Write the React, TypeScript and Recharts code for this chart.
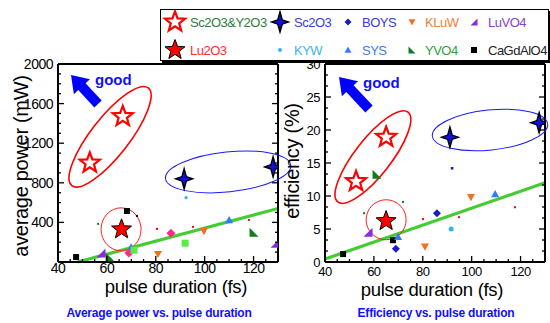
import React from 'react'
import { ScatterChart, Scatter, XAxis, YAxis, ReferenceLine, ReferenceDot } from 'recharts'

type Pt = { x: number; y: number }
type Draw = (cx: number, cy: number) => React.ReactElement

const FONT = '"Liberation Sans", Arial, Helvetica, sans-serif'
const BLUE = '#1010ff'

// tick labels
const durationLabels = [40, 60, 80, 100, 120]
const powerLabels = [400, 800, 1200, 1600, 2000]
const efficiencyLabels = [0, 5, 10, 15, 20, 25, 30]

// average power (mW) vs pulse duration (fs)
const sc2o3y2o3Power = [{ x: 53, y: 1000 }, { x: 66.5, y: 1470 }]
const sc2o3Power = [{ x: 91.6, y: 840 }, { x: 128, y: 960 }]
const lu2o3Power = [{ x: 66, y: 330 }]
const boysPower = [{ x: 86.2, y: 290 }, { x: 69, y: 90 }]
const kluwPower = [{ x: 99.7, y: 310 }, { x: 80.9, y: 80 }]
const luvo4Power = [{ x: 57.6, y: 90 }, { x: 128.8, y: 190 }]
const kywPower = [{ x: 92.4, y: 650 }]
const sysPower = [{ x: 110, y: 425 }, { x: 69.9, y: 150 }]
const yvo4Power = [{ x: 120.2, y: 300 }, { x: 61.3, y: 50 }]
const cagdalo4Power = [{ x: 68.2, y: 515 }, { x: 47.4, y: 50 }]
const otherPower = [{ x: 92, y: 190 }, { x: 71.1, y: 120 }]
const smallRedPower = [{ x: 80.5, y: 335 }, { x: 95.2, y: 355 }, { x: 118.1, y: 425 }]
const smallGreenPower = [{ x: 56.4, y: 385 }]
const smallBlackPower = [{ x: 72.3, y: 465 }]

// efficiency (%) vs pulse duration (fs)
const sc2o3y2o3Eff = [{ x: 52.7, y: 12.2 }, { x: 65, y: 18.9 }]
const sc2o3Eff = [{ x: 91.1, y: 18.9 }, { x: 127.6, y: 21.1 }]
const lu2o3Eff = [{ x: 65, y: 6.2 }]
const boysEff = [{ x: 85.8, y: 7.4 }, { x: 69, y: 2.0 }]
const kluwEff = [{ x: 99.7, y: 9.8 }, { x: 80.9, y: 2.3 }]
const luvo4Eff = [{ x: 57.6, y: 4.5 }]
const kywEff = [{ x: 91.6, y: 5.0 }]
const sysEff = [{ x: 109.6, y: 10.3 }, { x: 69.9, y: 3.8 }]
const yvo4Eff = [{ x: 61.3, y: 13.3 }]
const cagdalo4Eff = [{ x: 67.8, y: 3.3 }, { x: 47.4, y: 1.2 }]
const smallRedEff = [{ x: 117.7, y: 8.3 }, { x: 94.8, y: 6.8 }, { x: 80.1, y: 6.5 }]
const smallGreenEff = [{ x: 56, y: 7.4 }, { x: 71.9, y: 9.1 }]
const smallBlueEff = [{ x: 92, y: 14.2 }]

// green trend lines
const powerTrend = [{ x: 48, y: 0 }, { x: 130, y: 540 }]
const efficiencyTrend = [{ x: 40, y: 0.45 }, { x: 130, y: 12 }]

// centres of the hand drawn rings
const powerRings = [{ x: 61.3, y: 1265 }, { x: 109.6, y: 910 }, { x: 65.8, y: 330 }]
const efficiencyRings = [{ x: 59.6, y: 15.9 }, { x: 107.5, y: 20 }, { x: 65, y: 6.4 }]

const powerRingStyle = [
  { rx: 62, ry: 19, angle: -52, color: '#ff0000', width: 1.6 },
  { rx: 63, ry: 20, angle: -6, color: '#1a1aff', width: 1 },
  { rx: 20, ry: 21.5, angle: 0, color: '#ff2020', width: 1 },
]
const efficiencyRingStyle = [
  { rx: 57, ry: 18, angle: -52, color: '#ff0000', width: 1.6 },
  { rx: 58, ry: 20, angle: -6, color: '#1a1aff', width: 1 },
  { rx: 20, ry: 20, angle: 0, color: '#ff2020', width: 1 },
]

const steps = (from: number, to: number, step: number) => {
  const out: number[] = []
  for (let v = from; v <= to + 1e-9; v += step) out.push(Math.round(v * 1000) / 1000)
  return out
}
const durationTicks = steps(40, 130, 5)
const durationMajor = [40, 60, 80, 100, 120]
const powerTicks = steps(0, 2000, 100)
const powerMajor = [0, 400, 800, 1200, 1600, 2000]
const efficiencyTicks = steps(0, 30, 5 / 3)
const efficiencyMajor = [0, 5, 10, 15, 20, 25, 30]

// marker shapes
const starPoints = (cx: number, cy: number, R: number, r: number) => {
  const pts: string[] = []
  for (let i = 0; i < 10; i++) {
    const rad = i % 2 === 0 ? R : r
    const a = ((-90 + i * 36) * Math.PI) / 180
    pts.push(`${cx + rad * Math.cos(a)},${cy + rad * Math.sin(a)}`)
  }
  return pts.join(' ')
}
const openStar = (R: number): Draw => (cx, cy) => (
  <polygon points={starPoints(cx, cy, R, R * 0.42)} fill="#fff" stroke="#ff0000" strokeWidth={2.2} />
)
const solidStar = (R: number): Draw => (cx, cy) => (
  <polygon points={starPoints(cx, cy, R, R * 0.42)} fill="#ff0000" stroke="#000" strokeWidth={1} />
)
const cross4 = (s: number): Draw => (cx, cy) => (
  <polygon
    points={`${cx},${cy - s * 1.2} ${cx + 2.2},${cy - 2.2} ${cx + s},${cy} ${cx + 2.2},${cy + 2.2} ${cx},${cy + s * 1.2} ${cx - 2.2},${cy + 2.2} ${cx - s},${cy} ${cx - 2.2},${cy - 2.2}`}
    fill="#1010e0"
    stroke="#000"
    strokeWidth={1.4}
  />
)
const diamond = (c: string, s: number): Draw => (cx, cy) => (
  <polygon points={`${cx},${cy - s} ${cx + s},${cy} ${cx},${cy + s} ${cx - s},${cy}`} fill={c} />
)
const triDown = (c: string, s: number): Draw => (cx, cy) => (
  <polygon points={`${cx - s},${cy - s * 0.8} ${cx + s},${cy - s * 0.8} ${cx},${cy + s}`} fill={c} />
)
const triUp = (c: string, s: number): Draw => (cx, cy) => (
  <polygon points={`${cx - s},${cy + s * 0.8} ${cx + s},${cy + s * 0.8} ${cx},${cy - s}`} fill={c} />
)
const triLeft = (c: string, s: number): Draw => (cx, cy) => (
  <polygon points={`${cx - s},${cy - s} ${cx - s},${cy + s} ${cx + s},${cy + s}`} fill={c} />
)
const triRight = (c: string, s: number): Draw => (cx, cy) => (
  <polygon points={`${cx + s},${cy - s} ${cx + s},${cy + s} ${cx - s},${cy + s}`} fill={c} />
)
const square = (c: string, s: number): Draw => (cx, cy) => (
  <rect x={cx - s} y={cy - s} width={s * 2} height={s * 2} fill={c} />
)
const dot = (c: string, r: number): Draw => (cx, cy) => <circle cx={cx} cy={cy} r={r} fill={c} />

type Layer = { key: string; data: Pt[]; draw: Draw }

const powerLayers: Layer[] = [
  { key: 'cagdalo4', data: cagdalo4Power, draw: square('#000', 3) },
  { key: 'kluw', data: kluwPower, draw: triDown('#f07020', 4) },
  { key: 'sys', data: sysPower, draw: triUp('#2f7bff', 4) },
  { key: 'yvo4', data: yvo4Power, draw: triLeft('#117a22', 4.5) },
  { key: 'luvo4', data: luvo4Power, draw: triRight('#8a2be2', 4.5) },
  { key: 'kyw', data: kywPower, draw: dot('#2ab8f0', 1.6) },
  { key: 'boys', data: boysPower, draw: diamond('#ff2a8a', 4.5) },
  { key: 'other', data: otherPower, draw: square('#55ee44', 3.5) },
  { key: 'sred', data: smallRedPower, draw: square('#ff0000', 1) },
  { key: 'sgreen', data: smallGreenPower, draw: square('#117a22', 1) },
  { key: 'sblack', data: smallBlackPower, draw: square('#000', 1) },
  { key: 'lu2o3', data: lu2o3Power, draw: solidStar(10.5) },
  { key: 'sc2o3y2o3', data: sc2o3y2o3Power, draw: openStar(10.5) },
  { key: 'sc2o3', data: sc2o3Power, draw: cross4(8.5) },
]

const efficiencyLayers: Layer[] = [
  { key: 'cagdalo4', data: cagdalo4Eff, draw: square('#000', 3) },
  { key: 'kluw', data: kluwEff, draw: triDown('#f07020', 4) },
  { key: 'sys', data: sysEff, draw: triUp('#2f7bff', 4) },
  { key: 'yvo4', data: yvo4Eff, draw: triLeft('#117a22', 4.5) },
  { key: 'luvo4', data: luvo4Eff, draw: triRight('#8a2be2', 4.5) },
  { key: 'kyw', data: kywEff, draw: dot('#2ab8f0', 2.5) },
  { key: 'boys', data: boysEff, draw: diamond('#1a1acd', 4) },
  { key: 'sred', data: smallRedEff, draw: square('#ff0000', 1) },
  { key: 'sgreen', data: smallGreenEff, draw: square('#117a22', 1) },
  { key: 'sblue', data: smallBlueEff, draw: square('#1a1acd', 1.3) },
  { key: 'lu2o3', data: lu2o3Eff, draw: solidStar(10.5) },
  { key: 'sc2o3y2o3', data: sc2o3y2o3Eff, draw: openStar(10.5) },
  { key: 'sc2o3', data: sc2o3Eff, draw: cross4(8.5) },
]

const legendNames = ['Sc2O3&Y2O3', 'Sc2O3', 'BOYS', 'KLuW', 'LuVO4', 'Lu2O3', 'KYW', 'SYS', 'YVO4', 'CaGdAlO4']
const legendText = ['#2e7d3a', '#3b3bdc', '#3b3bdc', '#f0803a', '#8b3fcf', '#ff3030', '#3ab4ec', '#3a7ee6', '#2f9f3f', '#222']
const legendMarks: Draw[] = [
  openStar(10.5), cross4(8.5), diamond('#1a1acd', 3.5), triDown('#f07020', 3.5), triRight('#8a2be2', 3.5),
  solidStar(10.5), dot('#2ab8f0', 2), triUp('#2f7bff', 3.5), triLeft('#117a22', 3.5), square('#000', 3),
]

const isIn = (list: number[], v: number) => list.some((m) => Math.abs(m - v) < 1e-6)

function axisTick(side: string, major: number[], labels: number[], fontSize: number, gap: number) {
  return (p: any) => {
    const { x, y, payload } = p
    const v = payload.value
    const len = isIn(major, v) ? 6 : 3
    const show = isIn(labels, v)
    let line = null
    let text = null
    if (side === 'bottom') {
      line = <line x1={x} x2={x} y1={y} y2={y - len} />
      if (show) text = <text x={x} y={y + gap} textAnchor="middle">{v}</text>
    } else if (side === 'top') {
      line = <line x1={x} x2={x} y1={y} y2={y + len} />
    } else if (side === 'left') {
      line = <line x1={x} x2={x + len} y1={y} y2={y} />
      if (show) text = <text x={x - gap} y={y} dy="0.36em" textAnchor="end">{v}</text>
    } else {
      line = <line x1={x} x2={x - len} y1={y} y2={y} />
    }
    return (
      <g>
        <g stroke="#000" strokeWidth={1.3}>{line}</g>
        <g fill="#000" stroke="none" fontSize={fontSize} letterSpacing={-0.5}>{text}</g>
      </g>
    )
  }
}

const frame = { stroke: '#000', strokeWidth: 2 }

// axes are 1px thick boxes (recharts skips axes of zero size), margins account for that
function Panel(props: {
  left: number
  width: number
  margin: { top: number; right: number; bottom: number; left: number }
  yDomain: [number, number]
  yTicks: number[]
  yMajor: number[]
  yLabels: number[]
  tickFont: number
  xGap: number
  layers: Layer[]
  trend: Pt[]
  rings: Pt[]
  ringStyle: { rx: number; ry: number; angle: number; color: string; width: number }[]
}) {
  const { left, width, margin, yDomain, yTicks, yMajor, yLabels, tickFont, xGap, layers, trend, rings, ringStyle } = props
  return (
    <div style={{ position: 'absolute', left, top: 0 }}>
      <ScatterChart width={width} height={323} margin={margin}>
        <XAxis type="number" dataKey="x" domain={[40, 130]} ticks={durationTicks} interval={0} height={1}
          tickSize={0} tickMargin={0} tickLine={false} axisLine={frame} allowDataOverflow
          tick={axisTick('bottom', durationMajor, durationLabels, tickFont, xGap)} />
        <XAxis xAxisId="top" orientation="top" type="number" domain={[40, 130]} ticks={durationTicks} interval={0}
          height={1} tickSize={0} tickMargin={0} tickLine={false} axisLine={frame} allowDataOverflow
          tick={axisTick('top', durationMajor, [], tickFont, 0)} />
        <YAxis type="number" dataKey="y" domain={yDomain} ticks={yTicks} interval={0} width={1}
          tickSize={0} tickMargin={0} tickLine={false} axisLine={frame} allowDataOverflow
          tick={axisTick('left', yMajor, yLabels, tickFont, 5)} />
        <YAxis yAxisId="right" orientation="right" type="number" domain={yDomain} ticks={yTicks} interval={0}
          width={1} tickSize={0} tickMargin={0} tickLine={false} axisLine={frame} allowDataOverflow
          tick={axisTick('right', yMajor, [], tickFont, 0)} />
        {rings.map((c, i) => {
          const s = ringStyle[i]
          return (
            <ReferenceDot key={i} x={c.x} y={c.y} r={1} ifOverflow="visible"
              shape={(p: any) => (
                <ellipse cx={p.cx} cy={p.cy} rx={s.rx} ry={s.ry} transform={`rotate(${s.angle} ${p.cx} ${p.cy})`}
                  fill="none" stroke={s.color} strokeWidth={s.width} />
              )} />
          )
        })}
        <ReferenceLine segment={[trend[0], trend[1]]} stroke="#44cc33" strokeWidth={3.2} ifOverflow="visible" />
        {layers.map((l) => (
          <Scatter key={l.key} data={l.data} isAnimationActive={false} shape={(p: any) => l.draw(p.cx, p.cy)} />
        ))}
      </ScatterChart>
    </div>
  )
}

function arrow(tx: number, ty: number, hx: number, hy: number) {
  const L = Math.hypot(hx - tx, hy - ty)
  const a = (Math.atan2(hy - ty, hx - tx) * 180) / Math.PI
  const pts = `0,-5 ${L - 16},-5 ${L - 16},-11 ${L},0 ${L - 16},11 ${L - 16},5 0,5`
  return <polygon points={pts} transform={`translate(${tx} ${ty}) rotate(${a})`} fill="#0000ff" />
}

function LegendBox() {
  const markX = [14, 119, 187, 251, 313]
  const textX = [29, 133, 201, 264, 327]
  const rowY = [12, 40]
  return (
    <div style={{ position: 'absolute', left: 160, top: 9, width: 387, height: 50, border: '1px solid #000',
      boxShadow: '2px 2px 0 #000', background: '#fff' }}>
      <svg width={387} height={50} style={{ display: 'block' }}>
        {legendNames.map((name, i) => {
          const col = i % 5
          const y = rowY[Math.floor(i / 5)]
          return (
            <g key={name}>
              {legendMarks[i](markX[col], y)}
              <text x={textX[col]} y={y} dy="0.36em" fontSize={13} letterSpacing={-0.5} fill={legendText[i]}>{name}</text>
            </g>
          )
        })}
      </svg>
    </div>
  )
}

export default function App() {
  return (
    <div style={{ position: 'absolute', left: 0, top: 0, width: 550, height: 323, background: '#fff', fontFamily: FONT, overflow: 'hidden' }}>
      <Panel left={0} width={300} margin={{ top: 63, right: 21, bottom: 60, left: 57 }} yDomain={[0, 2000]}
        yTicks={powerTicks} yMajor={powerMajor} yLabels={powerLabels} tickFont={14} xGap={11}
        layers={powerLayers} trend={powerTrend} rings={powerRings} ringStyle={powerRingStyle} />
      <Panel left={290} width={260} margin={{ top: 63, right: 4, bottom: 60, left: 34 }} yDomain={[0, 30]}
        yTicks={efficiencyTicks} yMajor={efficiencyMajor} yLabels={efficiencyLabels} tickFont={13} xGap={14}
        layers={efficiencyLayers} trend={efficiencyTrend} rings={efficiencyRings} ringStyle={efficiencyRingStyle} />
      <LegendBox />
      <svg width={550} height={323} style={{ position: 'absolute', left: 0, top: 0, pointerEvents: 'none' }}>
        <g fill="#000" fontSize={20} letterSpacing={-0.3} textAnchor="middle">
          <text transform="translate(28 166) rotate(-90)">average power (mW)</text>
          <text transform="translate(299 161) rotate(-90)">efficiency (%)</text>
          <text x={176} y={293} fontSize={18.5}>pulse duration (fs)</text>
          <text x={432} y={296} fontSize={18.5}>pulse duration (fs)</text>
        </g>
        <g fill={BLUE} fontWeight="bold" fontSize={12} textAnchor="middle" letterSpacing={-0.2}>
          <text x={159} y={317}>Average power vs. pulse duration</text>
          <text x={436} y={317}>Efficiency vs. pulse duration</text>
        </g>
        <g fill={BLUE} fontWeight="bold" fontSize={15}>
          <text x={95} y={85}>good</text>
          <text x={363} y={88}>good</text>
        </g>
        {arrow(98, 104, 71, 75)}
        {arrow(369, 109, 339, 77)}
      </svg>
    </div>
  )
}
